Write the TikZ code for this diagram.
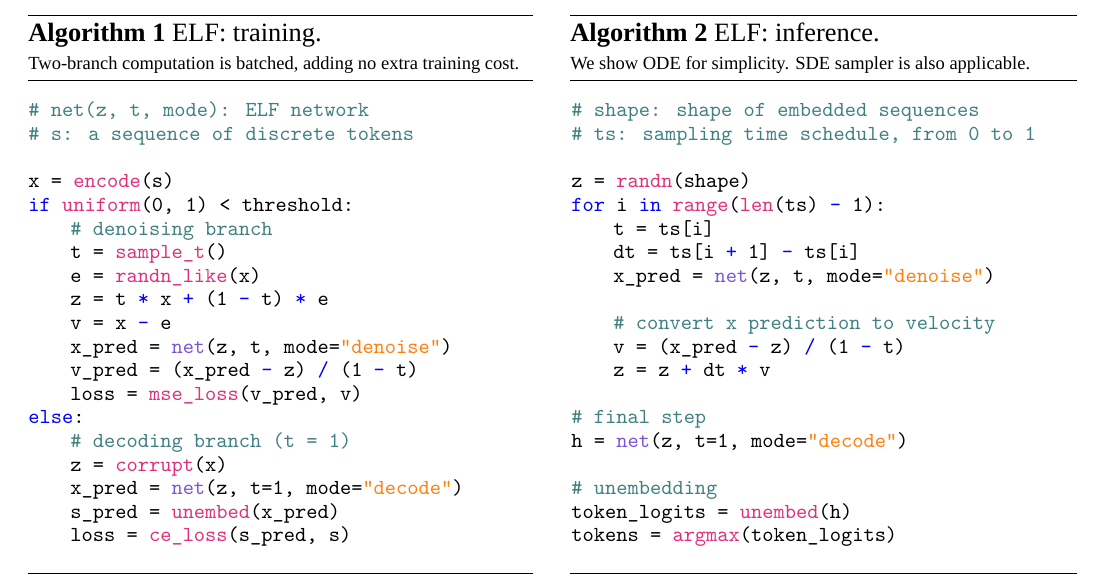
\documentclass[tikz,border=0pt]{standalone}
\usepackage{fontspec}
\setmainfont{Liberation Serif}
\definecolor{cmt}{HTML}{408080}
\definecolor{kwd}{HTML}{0000FF}
\definecolor{fnc}{HTML}{E0307A}
\definecolor{ntc}{HTML}{7B55D6}
\definecolor{strc}{HTML}{FF7F0E}
\newcommand{\cm}[1]{\textcolor{cmt}{#1}}
\newcommand{\kw}[1]{\textcolor{kwd}{#1}}
\newcommand{\fn}[1]{\textcolor{fnc}{#1}}
\newcommand{\nt}[1]{\textcolor{ntc}{#1}}
\newcommand{\st}[1]{\textcolor{strc}{#1}}
\newcommand{\op}[1]{\textcolor{kwd}{#1}}
\tikzset{
  code/.style={anchor=base west, inner sep=0pt, font=\fontsize{10.7}{12}\ttfamily},
  title/.style={anchor=base west, inner sep=0pt, font=\fontsize{13.2}{15}\selectfont},
  caption/.style={anchor=base west, inner sep=0pt, font=\fontsize{9.25}{11}\selectfont},
}
\begin{document}
\begin{tikzpicture}[x=0.5pt,y=-0.5pt]
\useasboundingbox (0,0) rectangle (1096,588);
% rules
\foreach \xa/\xb in {28/533, 570/1077}{
  \draw[line width=0.6pt] (\xa,15.5) -- (\xb,15.5);
  \draw[line width=0.4pt] (\xa,80) -- (\xb,80);
  \draw[line width=0.4pt] (\xa,573) -- (\xb,573);
}
% training
\node[title] (t1) at (28,42) {\textbf{Algorithm 1} ELF: training.};
\node[caption] (c1) at (28,70) {Two-branch computation is batched, adding no extra training cost.};
\node[code] (a0) at (28,117) {\cm{\# net(z, t, mode): ELF network}};
\node[code] (a1) at (28,140.6) {\cm{\# s: a sequence of discrete tokens}};
\node[code] (a3) at (28,187.8) {x = \fn{encode}(s)};
\node[code] (a4) at (28,211.4) {\kw{if} \fn{uniform}(0, 1) < threshold:};
\node[code] (a5) at (70,235) {\cm{\# denoising branch}};
\node[code] (a6) at (70,258.6) {t = \fn{sample\_t}()};
\node[code] (a7) at (70,282.2) {e = \fn{randn\_like}(x)};
\node[code] (a8) at (70,305.8) {z = t \op{*} x \op{+} (1 \op{-} t) \op{*} e};
\node[code] (a9) at (70,329.4) {v = x \op{-} e};
\node[code] (a10) at (70,353) {x\_pred = \nt{net}(z, t, mode=\st{"denoise"})};
\node[code] (a11) at (70,376.6) {v\_pred = (x\_pred \op{-} z) \op{/} (1 \op{-} t)};
\node[code] (a12) at (70,400.2) {loss = \fn{mse\_loss}(v\_pred, v)};
\node[code] (a13) at (28,423.8) {\kw{else}:};
\node[code] (a14) at (70,447.4) {\cm{\# decoding branch (t = 1)}};
\node[code] (a15) at (70,471) {z = \fn{corrupt}(x)};
\node[code] (a16) at (70,494.6) {x\_pred = \nt{net}(z, t=1, mode=\st{"decode"})};
\node[code] (a17) at (70,518.2) {s\_pred = \fn{unembed}(x\_pred)};
\node[code] (a18) at (70,541.8) {loss = \fn{ce\_loss}(s\_pred, s)};
% inference
\node[title] (t2) at (570,42) {\textbf{Algorithm 2} ELF: inference.};
\node[caption] (c2) at (570,70) {We show ODE for simplicity. SDE sampler is also applicable.};
\node[code] (b0) at (571,117) {\cm{\# shape: shape of embedded sequences}};
\node[code] (b1) at (571,140.6) {\cm{\# ts: sampling time schedule, from 0 to 1}};
\node[code] (b3) at (571,187.8) {z = \fn{randn}(shape)};
\node[code] (b4) at (571,211.4) {\kw{for} i \kw{in} \fn{range}(\fn{len}(ts) \op{-} 1):};
\node[code] (b5) at (613,235) {t = ts[i]};
\node[code] (b6) at (613,258.6) {dt = ts[i \op{+} 1] \op{-} ts[i]};
\node[code] (b7) at (613,282.2) {x\_pred = \nt{net}(z, t, mode=\st{"denoise"})};
\node[code] (b9) at (613,329.4) {\cm{\# convert x prediction to velocity}};
\node[code] (b10) at (613,353) {v = (x\_pred \op{-} z) \op{/} (1 \op{-} t)};
\node[code] (b11) at (613,376.6) {z = z \op{+} dt \op{*} v};
\node[code] (b13) at (571,423.8) {\cm{\# final step}};
\node[code] (b14) at (571,447.4) {h = \nt{net}(z, t=1, mode=\st{"decode"})};
\node[code] (b16) at (571,494.6) {\cm{\# unembedding}};
\node[code] (b17) at (571,518.2) {token\_logits = \fn{unembed}(h)};
\node[code] (b18) at (571,541.8) {tokens = \fn{argmax}(token\_logits)};
\end{tikzpicture}
\end{document}
